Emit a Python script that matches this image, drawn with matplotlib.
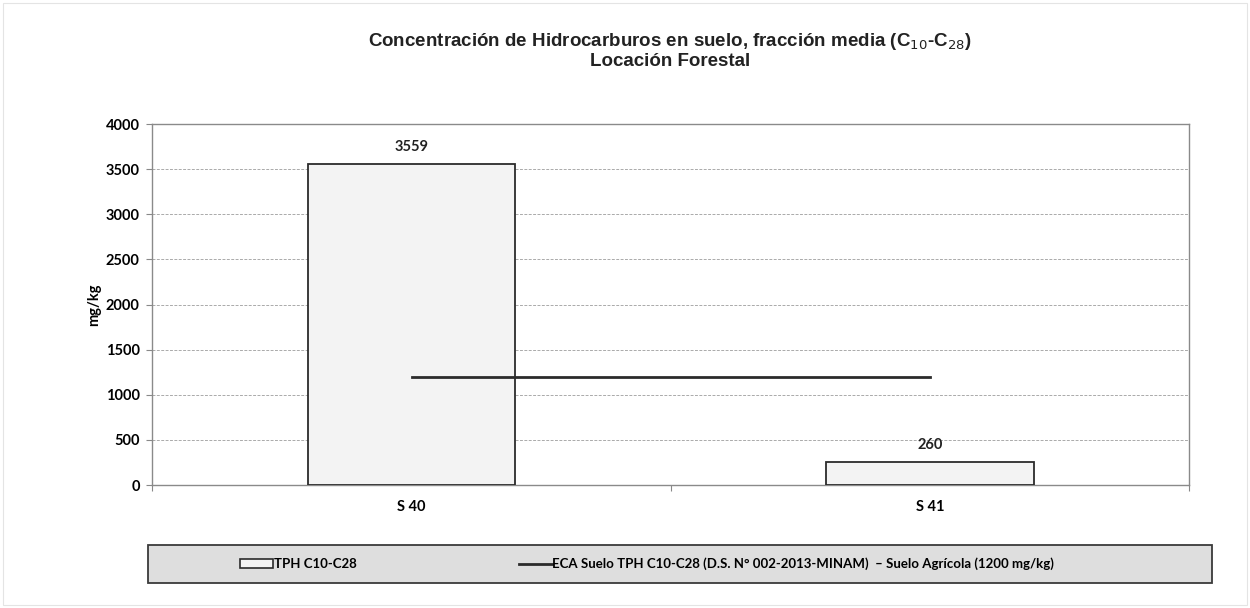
import matplotlib.pyplot as plt
from matplotlib.patches import Rectangle
from matplotlib.lines import Line2D

# data
estaciones = ['S 40', 'S 41']
tph = [3559, 260]
eca_limite = [1200, 1200]
yticks = [0, 500, 1000, 1500, 2000, 2500, 3000, 3500, 4000]

plt.rcParams['font.family'] = ['Lato', 'DejaVu Sans']

fig = plt.figure(figsize=(12.5, 6.08), dpi=100)
ax = fig.add_axes([0.1218, 0.2023, 0.8296, 0.5937])

x = list(range(len(estaciones)))
ax.bar(x, tph, width=0.40, color='#f3f3f3', edgecolor='#2b2b2b',
       linewidth=1.3, zorder=3)
ax.plot(x, eca_limite, color='#2b2b2b', linewidth=2, zorder=4)

# data labels
for xi, v in zip(x, tph):
    ax.text(xi, v + 110, str(v), ha='center', va='bottom', fontsize=10.5,
            fontweight='bold', color='#222222')

ax.set_xlim(-0.5, 1.5)
ax.set_ylim(0, 4000)
ax.set_yticks(yticks)
ax.set_yticklabels([str(t) for t in yticks], fontsize=10.5, fontweight='bold')
ax.set_xticks([-0.5, 0.5, 1.5])
ax.set_xticklabels([])
ax.set_xticks(x, minor=True)
ax.set_xticklabels(estaciones, minor=True, fontsize=10.5, fontweight='bold')
ax.tick_params(axis='x', which='minor', length=0, pad=11)
ax.tick_params(axis='x', which='major', length=4, color='#888888')
ax.tick_params(axis='y', length=4, color='#888888', pad=5)

ax.grid(axis='y', color='#aaaaaa', linewidth=0.7, linestyle=(0, (3, 1.5)), zorder=0)
for side in ['top', 'right', 'left', 'bottom']:
    ax.spines[side].set_color('#8a8a8a')
    ax.spines[side].set_linewidth(1)

ax.set_ylabel('mg/kg', fontsize=10.5, fontweight='bold', labelpad=3)

# title
fig.text(0.536, 1 - 41 / 608,
         'Concentración de Hidrocarburos en suelo, fracción media (C$_{10}$-C$_{28}$)',
         ha='center', va='center', fontsize=13.5, fontweight='bold',
         family='Liberation Sans', color='#222222')
fig.text(0.536, 1 - 62 / 608, 'Locación Forestal', ha='center', va='center',
         fontsize=13.5, fontweight='bold', family='Liberation Sans', color='#222222')

# faint chart-area frame
fig.patches.append(Rectangle((3 / 1250, 3 / 608), 1 - 6 / 1250, 1 - 6 / 608,
                             transform=fig.transFigure, facecolor='none',
                             edgecolor='#e4e4e4', linewidth=0.8, zorder=0))

# legend box
fig.patches.append(Rectangle((148 / 1250, 1 - 583 / 608), (1212 - 148) / 1250, 38 / 608,
                             transform=fig.transFigure, facecolor='#dedede',
                             edgecolor='#3a3a3a', linewidth=1.3, zorder=0))
handles = [Rectangle((0, 0), 1, 1, facecolor='#f3f3f3', edgecolor='#2b2b2b', linewidth=1.2),
           Line2D([0], [0], color='#2b2b2b', linewidth=2)]
labels = ['TPH C10-C28',
          'ECA Suelo TPH C10-C28 (D.S. N° 002-2013-MINAM)  – Suelo Agrícola (1200 mg/kg)']
fig.legend(handles, labels, ncol=2, frameon=False, loc='center left',
           bbox_to_anchor=(228 / 1250, 1 - 564 / 608),
           prop={'weight': 'bold', 'size': 9.5}, handlelength=2.5, handletextpad=0.05,
           columnspacing=12.3)

fig.savefig('out.png', dpi=100, facecolor='white')
